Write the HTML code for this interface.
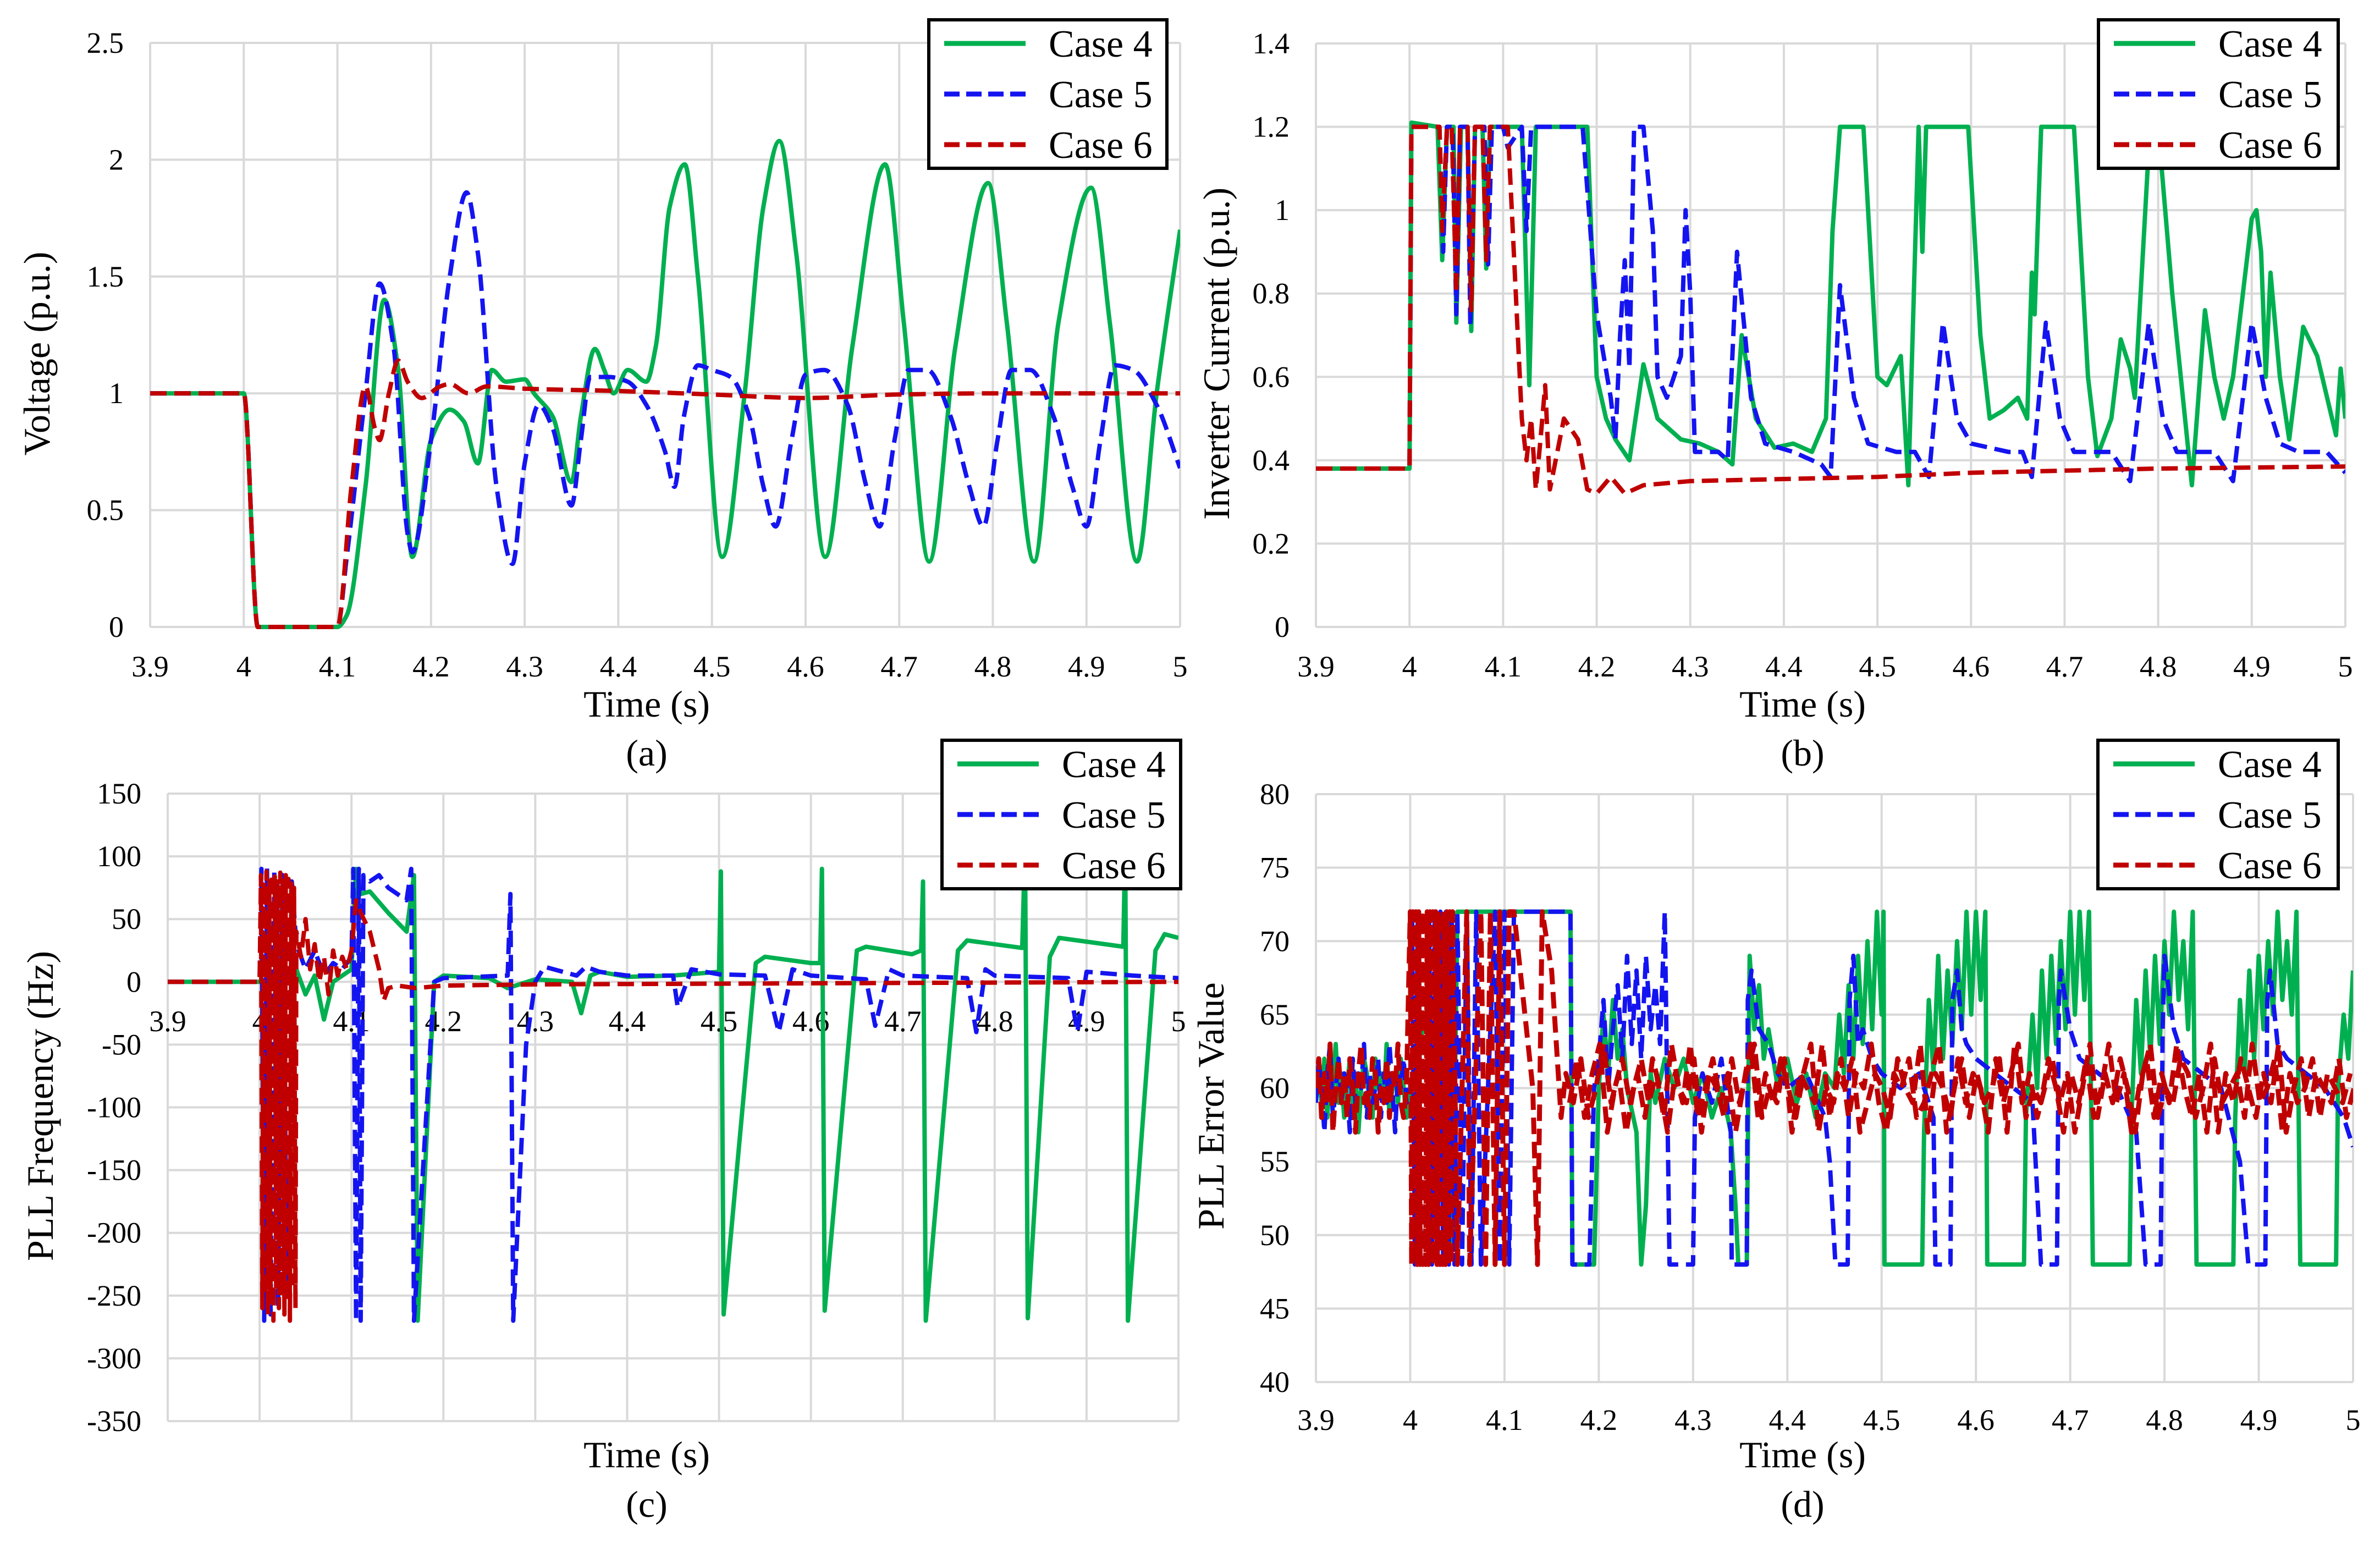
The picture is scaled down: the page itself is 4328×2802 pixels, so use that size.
<!DOCTYPE html>
<html><head><meta charset="utf-8"><style>
html,body{margin:0;padding:0;background:#fff;}
svg, svg text{font-family:"Liberation Serif","Times New Roman",serif;}
</style></head><body>
<svg id="fig" xmlns="http://www.w3.org/2000/svg" width="4328" height="2797" viewBox="0 0 4328 2797" font-family="Liberation Serif, serif">
<rect x="0" y="0" width="4328" height="2797" fill="#fff"/>
</svg>
<script>
// ---------- categories / ticks ----------
const timeTicks = [3.9,4,4.1,4.2,4.3,4.4,4.5,4.6,4.7,4.8,4.9,5];
const timeTickLabels = ["3.9","4","4.1","4.2","4.3","4.4","4.5","4.6","4.7","4.8","4.9","5"];
const voltTicks = [0,0.5,1,1.5,2,2.5];
const voltTickLabels = ["0","0.5","1","1.5","2","2.5"];
const currTicks = [0,0.2,0.4,0.6,0.8,1,1.2,1.4];
const currTickLabels = ["0","0.2","0.4","0.6","0.8","1","1.2","1.4"];
const freqTicks = [-350,-300,-250,-200,-150,-100,-50,0,50,100,150];
const freqTickLabels = ["-350","-300","-250","-200","-150","-100","-50","0","50","100","150"];
const errTicks = [40,45,50,55,60,65,70,75,80];
const errTickLabels = ["40","45","50","55","60","65","70","75","80"];
const legendLabels = ["Case 4","Case 5","Case 6"];

// ---------- (a) voltage ----------
const voltCase4 = [[3.9,1],[4.0,1],[4.015,0],[4.1,0],[4.11,0.05],[4.13,0.6],[4.15,1.4],[4.165,1.1],[4.18,0.3],[4.2,0.8],[4.22,0.93],[4.235,0.88],[4.25,0.7],[4.265,1.1],[4.28,1.05],[4.3,1.06],[4.31,1.0],[4.33,0.9],[4.35,0.62],[4.36,0.9],[4.375,1.19],[4.385,1.1],[4.395,1.0],[4.41,1.1],[4.43,1.05],[4.44,1.2],[4.455,1.8],[4.471,1.98],[4.485,1.5],[4.511,0.3],[4.535,1.0],[4.555,1.8],[4.572,2.08],[4.59,1.6],[4.621,0.3],[4.65,1.2],[4.685,1.98],[4.705,1.3],[4.732,0.28],[4.76,1.2],[4.795,1.9],[4.815,1.3],[4.844,0.28],[4.87,1.3],[4.905,1.88],[4.925,1.3],[4.954,0.28],[4.975,1.0],[5.0,1.7]];
const voltCase5 = [[3.9,1],[4.0,1],[4.015,0],[4.1,0],[4.11,0.3],[4.13,1.0],[4.145,1.47],[4.16,1.2],[4.175,0.4],[4.18,0.32],[4.2,0.8],[4.22,1.5],[4.238,1.86],[4.25,1.6],[4.27,0.6],[4.287,0.27],[4.3,0.7],[4.315,0.95],[4.33,0.85],[4.35,0.52],[4.36,0.8],[4.37,1.07],[4.39,1.07],[4.41,1.05],[4.43,0.95],[4.45,0.75],[4.46,0.6],[4.47,0.9],[4.485,1.12],[4.5,1.1],[4.52,1.07],[4.54,0.9],[4.555,0.6],[4.568,0.43],[4.585,0.8],[4.6,1.08],[4.62,1.1],[4.645,0.95],[4.665,0.6],[4.679,0.43],[4.695,0.8],[4.71,1.1],[4.73,1.1],[4.755,0.9],[4.775,0.6],[4.79,0.43],[4.805,0.8],[4.82,1.1],[4.84,1.1],[4.865,0.9],[4.885,0.6],[4.9,0.43],[4.915,0.8],[4.93,1.12],[4.95,1.1],[4.975,0.95],[5.0,0.68]];
const voltCase6 = [[3.9,1],[4.0,1],[4.015,0],[4.1,0],[4.115,0.6],[4.13,1.03],[4.14,0.85],[4.145,0.8],[4.155,1.0],[4.165,1.14],[4.175,1.05],[4.19,0.98],[4.21,1.03],[4.22,1.04],[4.24,1.0],[4.26,1.03],[4.3,1.02],[4.4,1.01],[4.5,0.995],[4.6,0.98],[4.7,0.995],[4.8,1.0],[5.0,1.0]];

// ---------- (b) inverter current ----------
const currCase4 = [[3.9,0.38],[4.0,0.38],[4.002,1.21],[4.03,1.2],[4.035,0.88],[4.04,1.2],[4.047,1.2],[4.05,0.73],[4.055,1.2],[4.062,1.2],[4.066,0.71],[4.07,1.2],[4.078,1.2],[4.082,0.86],[4.086,1.2],[4.12,1.2],[4.128,0.58],[4.135,1.2],[4.19,1.2],[4.2,0.6],[4.21,0.5],[4.22,0.45],[4.235,0.4],[4.25,0.63],[4.265,0.5],[4.29,0.45],[4.31,0.44],[4.33,0.42],[4.345,0.39],[4.355,0.7],[4.37,0.5],[4.39,0.43],[4.41,0.44],[4.43,0.42],[4.445,0.5],[4.452,0.95],[4.46,1.2],[4.485,1.2],[4.5,0.6],[4.51,0.58],[4.525,0.65],[4.533,0.34],[4.544,1.2],[4.548,0.9],[4.552,1.2],[4.597,1.2],[4.61,0.7],[4.62,0.5],[4.635,0.52],[4.65,0.55],[4.66,0.5],[4.665,0.85],[4.668,0.75],[4.675,1.2],[4.71,1.2],[4.725,0.6],[4.735,0.41],[4.75,0.5],[4.76,0.69],[4.77,0.62],[4.775,0.55],[4.78,0.75],[4.79,1.15],[4.8,1.2],[4.815,0.8],[4.836,0.34],[4.85,0.76],[4.86,0.6],[4.87,0.5],[4.88,0.6],[4.9,0.98],[4.905,1.0],[4.91,0.9],[4.915,0.6],[4.92,0.85],[4.93,0.6],[4.94,0.45],[4.955,0.72],[4.97,0.65],[4.99,0.46],[4.995,0.62],[5.0,0.5]];
const currCase5 = [[3.9,0.38],[4.0,0.38],[4.002,1.2],[4.032,1.2],[4.036,0.9],[4.04,1.2],[4.046,1.2],[4.05,0.75],[4.054,1.2],[4.062,1.2],[4.065,0.72],[4.07,1.2],[4.08,1.2],[4.084,0.87],[4.088,1.2],[4.1,1.2],[4.105,1.15],[4.12,1.2],[4.125,0.95],[4.13,1.2],[4.185,1.2],[4.2,0.75],[4.215,0.55],[4.22,0.45],[4.225,0.7],[4.23,0.88],[4.235,0.62],[4.24,1.2],[4.25,1.2],[4.26,0.95],[4.265,0.6],[4.275,0.55],[4.29,0.65],[4.295,1.0],[4.3,0.8],[4.305,0.42],[4.33,0.42],[4.34,0.4],[4.35,0.9],[4.365,0.55],[4.38,0.44],[4.41,0.42],[4.44,0.39],[4.45,0.36],[4.46,0.82],[4.475,0.55],[4.49,0.44],[4.52,0.42],[4.54,0.42],[4.555,0.36],[4.57,0.73],[4.585,0.5],[4.6,0.44],[4.64,0.42],[4.655,0.42],[4.665,0.36],[4.68,0.73],[4.695,0.5],[4.71,0.42],[4.75,0.42],[4.77,0.35],[4.79,0.73],[4.805,0.5],[4.82,0.42],[4.86,0.42],[4.88,0.35],[4.9,0.73],[4.915,0.55],[4.93,0.44],[4.95,0.42],[4.98,0.42],[5.0,0.37]];
const currCase6 = [[3.9,0.38],[4.0,0.38],[4.002,1.2],[4.032,1.2],[4.035,0.95],[4.04,1.2],[4.045,1.2],[4.05,0.8],[4.054,1.2],[4.062,1.2],[4.066,0.76],[4.07,1.2],[4.078,1.2],[4.082,0.88],[4.086,1.2],[4.105,1.2],[4.12,0.5],[4.125,0.4],[4.13,0.5],[4.135,0.33],[4.14,0.45],[4.145,0.58],[4.15,0.33],[4.165,0.5],[4.18,0.45],[4.19,0.33],[4.2,0.32],[4.215,0.36],[4.23,0.32],[4.25,0.34],[4.3,0.35],[4.4,0.355],[4.5,0.36],[4.6,0.37],[4.7,0.375],[4.8,0.38],[5.0,0.385]];

// ---------- (c) PLL frequency ----------
const freqCase4 = [[3.9,0],[4.0,0],[4.04,10],[4.05,-10],[4.06,5],[4.07,-30],[4.08,0],[4.09,5],[4.1,10],[4.105,90],[4.11,70],[4.12,72],[4.14,55],[4.16,40],[4.168,85],[4.172,-270],[4.19,0],[4.2,5],[4.25,3],[4.27,-5],[4.3,2],[4.34,0],[4.35,-25],[4.36,5],[4.37,8],[4.4,4],[4.45,5],[4.5,8],[4.502,88],[4.505,-265],[4.54,15],[4.55,20],[4.6,15],[4.61,15],[4.612,90],[4.615,-262],[4.65,25],[4.66,28],[4.71,22],[4.72,25],[4.722,80],[4.725,-270],[4.76,25],[4.77,33],[4.83,27],[4.833,110],[4.836,-268],[4.86,20],[4.87,35],[4.94,28],[4.942,110],[4.945,-270],[4.975,25],[4.985,38],[5.0,35]];
const freqCase5 = [[3.9,0],[4.0,0],[4.002,90],[4.005,-270],[4.008,92],[4.012,-265],[4.016,88],[4.02,-260],[4.025,85],[4.03,-250],[4.035,80],[4.04,30],[4.05,10],[4.06,25],[4.07,5],[4.08,15],[4.09,10],[4.1,20],[4.102,90],[4.105,-270],[4.108,90],[4.11,-270],[4.113,85],[4.12,80],[4.13,85],[4.14,75],[4.15,70],[4.16,65],[4.165,90],[4.168,-270],[4.19,0],[4.2,3],[4.27,5],[4.273,70],[4.276,-270],[4.29,-50],[4.3,0],[4.31,12],[4.33,8],[4.345,5],[4.355,12],[4.37,8],[4.4,5],[4.45,5],[4.455,-20],[4.47,10],[4.5,6],[4.55,5],[4.565,-40],[4.58,10],[4.6,5],[4.66,2],[4.67,-35],[4.685,10],[4.7,5],[4.77,3],[4.78,-40],[4.79,10],[4.8,5],[4.88,3],[4.89,-40],[4.9,8],[4.95,5],[5.0,3]];
const freqCase6 = [[3.9,0],[4.0,0],[4.0015,85],[4.003,-260],[4.0045,80],[4.006,-250],[4.0075,88],[4.009,-265],[4.0105,82],[4.012,-255],[4.0135,86],[4.015,-270],[4.0165,84],[4.018,-245],[4.0195,80],[4.021,-260],[4.0225,87],[4.024,-250],[4.0255,83],[4.027,-265],[4.0285,85],[4.03,-255],[4.0315,82],[4.033,-270],[4.0345,80],[4.036,-240],[4.0375,75],[4.039,-260],[4.04,40],[4.045,20],[4.05,50],[4.055,10],[4.06,30],[4.065,0],[4.07,20],[4.075,-10],[4.08,25],[4.085,5],[4.09,20],[4.095,10],[4.1,25],[4.105,65],[4.11,55],[4.12,40],[4.13,10],[4.135,-15],[4.14,-5],[4.15,-3],[4.17,-5],[4.2,-3],[4.3,-2],[5.0,0]];

// ---------- (d) PLL error value ----------
const errPreNoise4 = [60,61,59,62,58,61,60,63,59,61,58,60,62,59,61,57,60,62,61,59,58,62,60,61,59,63,58,60,61,59,62,60,58];
const errPreNoise5 = [59,62,60,57,61,63,58,60,62,59,61,60,57,62,59,61,60,63,58,61,59,60,62,58,61,59,63,60,57,61,60,62,59];
const errPreNoise6 = [60,62,58,61,59,63,57,60,62,59,61,58,62,60,57,61,63,59,60,58,62,61,57,60,59,62,58,61,60,63,59,58,60];
const errBurst6 = [72,48,72,48,72,48,72,48,72,48,72,48,72,48,72,48,72,48,72,48,72,48,72,48,72,48,72,48,72,48];
const errPostNoise6 = [61,59,62,58,60,63,59,61,57,60,62,59,61,58,63,60,59,62,57,61,60,58,62,59,61,63,58,60,59,62,57,61,60,59,63,58,61,60,62,57,59,61,60,58,62,60,59,63,57,61,60,58,62,59,61,60,57,62,59,61,63,58,60,59,62,60,57,61,59,62,58,60,63,59,61,57,60,62,58,61,59,63,60,58,61,57,62,59,60,61,58,63,59,60,62,57,61,59,60,62,58,61,60,59,61];
const errPostNoise6b = [59,62,58,61,63,57,60,62,59,61,58,62,60,57,61,59,63,58,60,62,59,61,57,60,63,58,61,59,62,60,58,61,63,57,60,59,62,58,61,60,63,59,57,61,60,62,58,59,61,63,57,60,62,58,61,59,60,62,57,63,59,61,58,60,62,59,61,57,60,63,58,61,59,62,60,57,61,63,58,60,59,62,61,58,60,63,57,61,59,62,60,58,61,59,63,57,60,62,58,61,60,59,62,58,60];

const errCase4 = [[4.0,60],[4.04,72],[4.045,49],[4.05,72],[4.17,72],[4.172,48],[4.195,48],[4.2,60],[4.205,65],[4.21,61],[4.215,66],[4.22,62],[4.225,64],[4.23,60],[4.24,57],[4.245,48],[4.25,52],[4.255,61],[4.26,59],[4.27,62],[4.28,60],[4.29,62],[4.3,59],[4.31,61],[4.32,58],[4.33,60],[4.34,57],[4.345,52],[4.348,48],[4.357,48],[4.36,69],[4.365,64],[4.37,67],[4.375,62],[4.38,64],[4.39,60],[4.4,62],[4.41,59],[4.42,61],[4.43,58],[4.44,61],[4.45,60],[4.455,65],[4.46,61],[4.465,67],[4.47,62],[4.475,69],[4.48,63],[4.485,70],[4.49,64],[4.495,72],[4.5,65],[4.502,72],[4.503,48],[4.543,48],[4.545,57],[4.55,66],[4.555,61],[4.56,69],[4.565,62],[4.57,68],[4.575,63],[4.58,70],[4.585,64],[4.59,72],[4.595,65],[4.6,72],[4.605,66],[4.61,72],[4.612,48],[4.651,48],[4.653,58],[4.66,65],[4.665,60],[4.67,68],[4.675,62],[4.68,69],[4.685,63],[4.69,70],[4.695,64],[4.7,72],[4.705,65],[4.71,72],[4.715,66],[4.72,72],[4.724,48],[4.763,48],[4.765,58],[4.77,66],[4.775,61],[4.78,68],[4.785,62],[4.79,69],[4.795,63],[4.8,70],[4.805,65],[4.81,72],[4.815,66],[4.82,70],[4.825,64],[4.83,72],[4.834,48],[4.873,48],[4.875,58],[4.88,66],[4.885,61],[4.89,68],[4.895,62],[4.9,69],[4.905,64],[4.91,70],[4.915,65],[4.92,72],[4.925,66],[4.93,70],[4.935,65],[4.94,72],[4.944,48],[4.982,48],[4.984,60],[4.99,65],[4.995,62],[5.0,68]];
const errCase5 = [[4.0,60],[4.002,72],[4.005,48],[4.008,72],[4.011,48],[4.014,72],[4.017,48],[4.02,72],[4.023,48],[4.026,72],[4.029,48],[4.032,72],[4.035,48],[4.038,72],[4.041,48],[4.044,72],[4.047,48],[4.05,72],[4.055,48],[4.06,72],[4.065,48],[4.07,72],[4.075,48],[4.09,72],[4.095,48],[4.1,72],[4.105,48],[4.11,72],[4.17,72],[4.172,48],[4.19,48],[4.195,60],[4.2,62],[4.205,66],[4.21,60],[4.215,64],[4.22,67],[4.225,62],[4.23,69],[4.235,63],[4.24,68],[4.245,62],[4.25,69],[4.255,64],[4.26,67],[4.265,63],[4.27,72],[4.275,48],[4.3,48],[4.302,58],[4.31,61],[4.32,59],[4.33,62],[4.34,57],[4.341,48],[4.357,48],[4.358,66],[4.362,68],[4.37,64],[4.38,63],[4.39,61],[4.4,60],[4.42,61],[4.44,58],[4.445,55],[4.451,48],[4.464,48],[4.466,66],[4.47,69],[4.475,63],[4.48,64],[4.49,62],[4.5,61],[4.52,60],[4.54,61],[4.555,58],[4.557,48],[4.573,48],[4.575,66],[4.58,68],[4.585,64],[4.59,63],[4.6,62],[4.62,61],[4.64,60],[4.66,59],[4.669,48],[4.686,48],[4.688,66],[4.69,68],[4.7,64],[4.71,62],[4.73,61],[4.75,60],[4.77,57],[4.78,48],[4.796,48],[4.798,64],[4.8,69],[4.81,64],[4.82,62],[4.84,61],[4.86,60],[4.88,55],[4.889,48],[4.907,48],[4.909,66],[4.912,68],[4.92,63],[4.93,62],[4.95,61],[4.97,60],[4.99,58],[5.0,56]];
const errCase6Mid = [[4.045,72],[4.05,48],[4.06,72],[4.063,48],[4.075,72],[4.08,48],[4.085,72],[4.09,48],[4.095,72],[4.1,48],[4.105,72],[4.11,72],[4.13,60],[4.135,48],[4.14,72],[4.15,68],[4.155,63],[4.16,58]];

// ---------- drawing ----------
const NS = "http://www.w3.org/2000/svg";
const FONT = "Liberation Serif, serif";
const svg = document.getElementById('fig');
const COLORS = ["#00B050","#1414F0","#C00000"];
const DASH = [null,"30 14","30 14"];
function mk(tag, attrs, parent){
  const e = document.createElementNS(NS, tag);
  for (const k in attrs) e.setAttribute(k, attrs[k]);
  if (tag === 'text') e.setAttribute('font-family', FONT);
  (parent||svg).appendChild(e);
  return e;
}
function makeAxis(x0,x1,y0,y1,ymin,ymax){
  return {
    x: t => x0 + (t-3.9)/(5-3.9)*(x1-x0),
    y: v => y0 - (v-ymin)/(ymax-ymin)*(y0-y1)
  };
}
function seqFrom(t0, step, vals){ return vals.map((v,i)=>[t0+i*step, v]); }
// monotone cubic (Fritsch-Carlson) path - no overshoot
function smoothPath(P){
  const n = P.length;
  const dx=[], m=[], tan=[];
  for (let i=0;i<n-1;i++){ dx[i]=P[i+1][0]-P[i][0]; m[i]=(P[i+1][1]-P[i][1])/dx[i]; }
  tan[0]=m[0]; tan[n-1]=m[n-2];
  for (let i=1;i<n-1;i++){
    if (m[i-1]*m[i] <= 0) tan[i]=0;
    else { const w1=2*dx[i]+dx[i-1], w2=dx[i]+2*dx[i-1]; tan[i]=(w1+w2)/(w1/m[i-1]+w2/m[i]); }
  }
  let d = 'M'+P[0][0].toFixed(1)+','+P[0][1].toFixed(1);
  for (let i=0;i<n-1;i++){
    const h=dx[i]/3;
    d += ' C'+(P[i][0]+h).toFixed(1)+','+(P[i][1]+tan[i]*h).toFixed(1)+' '+(P[i+1][0]-h).toFixed(1)+','+(P[i+1][1]-tan[i+1]*h).toFixed(1)+' '+P[i+1][0].toFixed(1)+','+P[i+1][1].toFixed(1);
  }
  return d;
}

function drawPanel(p){
  const ax = makeAxis(p.x0,p.x1,p.y0,p.y1,p.ymin,p.ymax);
  const g = mk('g',{});
  
  
  timeTicks.forEach((t,i)=>{
    const l = mk('line',{x1:ax.x(t),x2:ax.x(t),y1:p.y1,y2:p.y0,stroke:'#D9D9D9','stroke-width':4},g);
    
    
    const tx = mk('text',{x:ax.x(t),y:p.xLabelY,'font-size':54,'text-anchor':'middle',fill:'#000'},g);
    tx.textContent = timeTickLabels[i];
    
    
  });
  p.yTicks.forEach((v,i)=>{
    const l = mk('line',{x1:p.x0,x2:p.x1,y1:ax.y(v),y2:ax.y(v),stroke:'#D9D9D9','stroke-width':4},g);
    
    
    const tx = mk('text',{x:p.x0-48,y:ax.y(v)+18,'font-size':54,'text-anchor':'end',fill:'#000'},g);
    tx.textContent = p.yTickLabels[i];
    
    
  });
  const cid = p.name+'-clip';
  const cp = mk('clipPath',{id:cid},g);
  mk('rect',{x:p.x0,y:p.y1-4,width:p.x1-p.x0,height:p.y0-p.y1+8},cp);
  const sg = mk('g',{'clip-path':'url(#'+cid+')'},g);
  p.series.forEach(s=>{
    s.data.forEach(d=>{
      const P = d.map(q=>[ax.x(q[0]), ax.y(q[1])]);
      const sw = s.w || 8;
      let el;
      if (p.smooth){
        const a = {d:smoothPath(P),fill:'none',stroke:COLORS[s.c],'stroke-width':sw,'stroke-linejoin':'round'};
        if (DASH[s.c]) a['stroke-dasharray'] = DASH[s.c];
        el = mk('path',a,sg);
      } else {
        const a = {points:P.map(q=>q[0].toFixed(1)+','+q[1].toFixed(1)).join(' '),fill:'none',stroke:COLORS[s.c],'stroke-width':sw,'stroke-linejoin':'round'};
        if (DASH[s.c]) a['stroke-dasharray'] = DASH[s.c];
        el = mk('polyline',a,sg);
      }
      
      
    });
  });
  const xt = mk('text',{x:p.titleX,y:p.xTitleY,'font-size':68,'text-anchor':'middle',fill:'#000'},g);
  xt.textContent = 'Time (s)';
  
  
  const yt = mk('text',{x:0,y:0,'font-size':68,'text-anchor':'middle',fill:'#000',transform:'translate('+p.yTitleX+','+p.yTitleY+') rotate(-90)'},g);
  yt.textContent = p.yTitle;
  
  
  const pl = mk('text',{x:p.titleX,y:p.capY,'font-size':68,'text-anchor':'middle',fill:'#000'},g);
  pl.textContent = p.caption;
  
  
  const L = p.legend;
  const lg = mk('g',{},g);
  
  
  mk('rect',{x:L.x,y:L.y,width:L.w,height:L.h,fill:'#fff',stroke:'#000','stroke-width':6},lg);
  legendLabels.forEach((lab,i)=>{
    const cy = L.y + 43 + i*92;
    const a = {x1:L.x+28,x2:L.x+176,y1:cy,y2:cy,stroke:COLORS[i],'stroke-width':9};
    if (DASH[i]) a['stroke-dasharray'] = '28 12';
    const ln = mk('line',a,lg);
    
    
    const tx = mk('text',{x:L.x+218,y:cy+24,'font-size':70,fill:'#000'},lg);
    tx.textContent = lab;
    
    
  });
}

drawPanel({name:'panel-a-voltage',smooth:true,x0:273,x1:2146,y0:1140,y1:78,ymin:0,ymax:2.5,yTicks:voltTicks,yTickLabels:voltTickLabels,
  xLabelY:1230,xTitleY:1303,capY:1392,titleX:1176,yTitleX:90,yTitleY:643,yTitle:'Voltage (p.u.)',caption:'(a)',
  legend:{x:1689,y:36,w:433,h:270},
  series:[{c:0,data:[voltCase4]},{c:1,data:[voltCase5]},{c:2,data:[voltCase6]}]});
drawPanel({name:'panel-b-current',x0:2393,x1:4265,y0:1140,y1:79,ymin:0,ymax:1.4,yTicks:currTicks,yTickLabels:currTickLabels,
  xLabelY:1230,xTitleY:1303,capY:1392,titleX:3278,yTitleX:2235,yTitleY:643,yTitle:'Inverter Current (p.u.)',caption:'(b)',
  legend:{x:3816,y:36,w:436,h:270},
  series:[{c:0,data:[currCase4]},{c:1,data:[currCase5]},{c:2,data:[currCase6]}]});
drawPanel({name:'panel-c-frequency',x0:305,x1:2143,y0:2584,y1:1443,ymin:-350,ymax:150,yTicks:freqTicks,yTickLabels:freqTickLabels,
  xLabelY:1875,xTitleY:2668,capY:2758,titleX:1176,yTitleX:96,yTitleY:2011,yTitle:'PLL Frequency (Hz)',caption:'(c)',
  legend:{x:1713,y:1346,w:434,h:270},
  series:[{c:0,data:[freqCase4]},{c:1,data:[freqCase5]},{c:2,data:[freqCase6]}]});
drawPanel({name:'panel-d-error',x0:2393,x1:4279,y0:2513,y1:1444,ymin:40,ymax:80,yTicks:errTicks,yTickLabels:errTickLabels,
  xLabelY:2600,xTitleY:2668,capY:2758,titleX:3278,yTitleX:2225,yTitleY:2011,yTitle:'PLL Error Value',caption:'(d)',
  legend:{x:3815,y:1346,w:437,h:270},
  series:[
    {c:0,data:[seqFrom(3.9,0.003,errPreNoise4).concat(errCase4)]},
    {c:1,data:[seqFrom(3.9,0.003,errPreNoise5).concat(errCase5)]},
    {c:2,w:9,data:[seqFrom(3.9,0.003,errPreNoise6).concat(seqFrom(4.0,0.0015,errBurst6)).concat(errCase6Mid).concat(seqFrom(4.165,0.008,errPostNoise6)),
                   seqFrom(4.169,0.008,errPostNoise6b)]}
  ]});
</script>
</body></html>
